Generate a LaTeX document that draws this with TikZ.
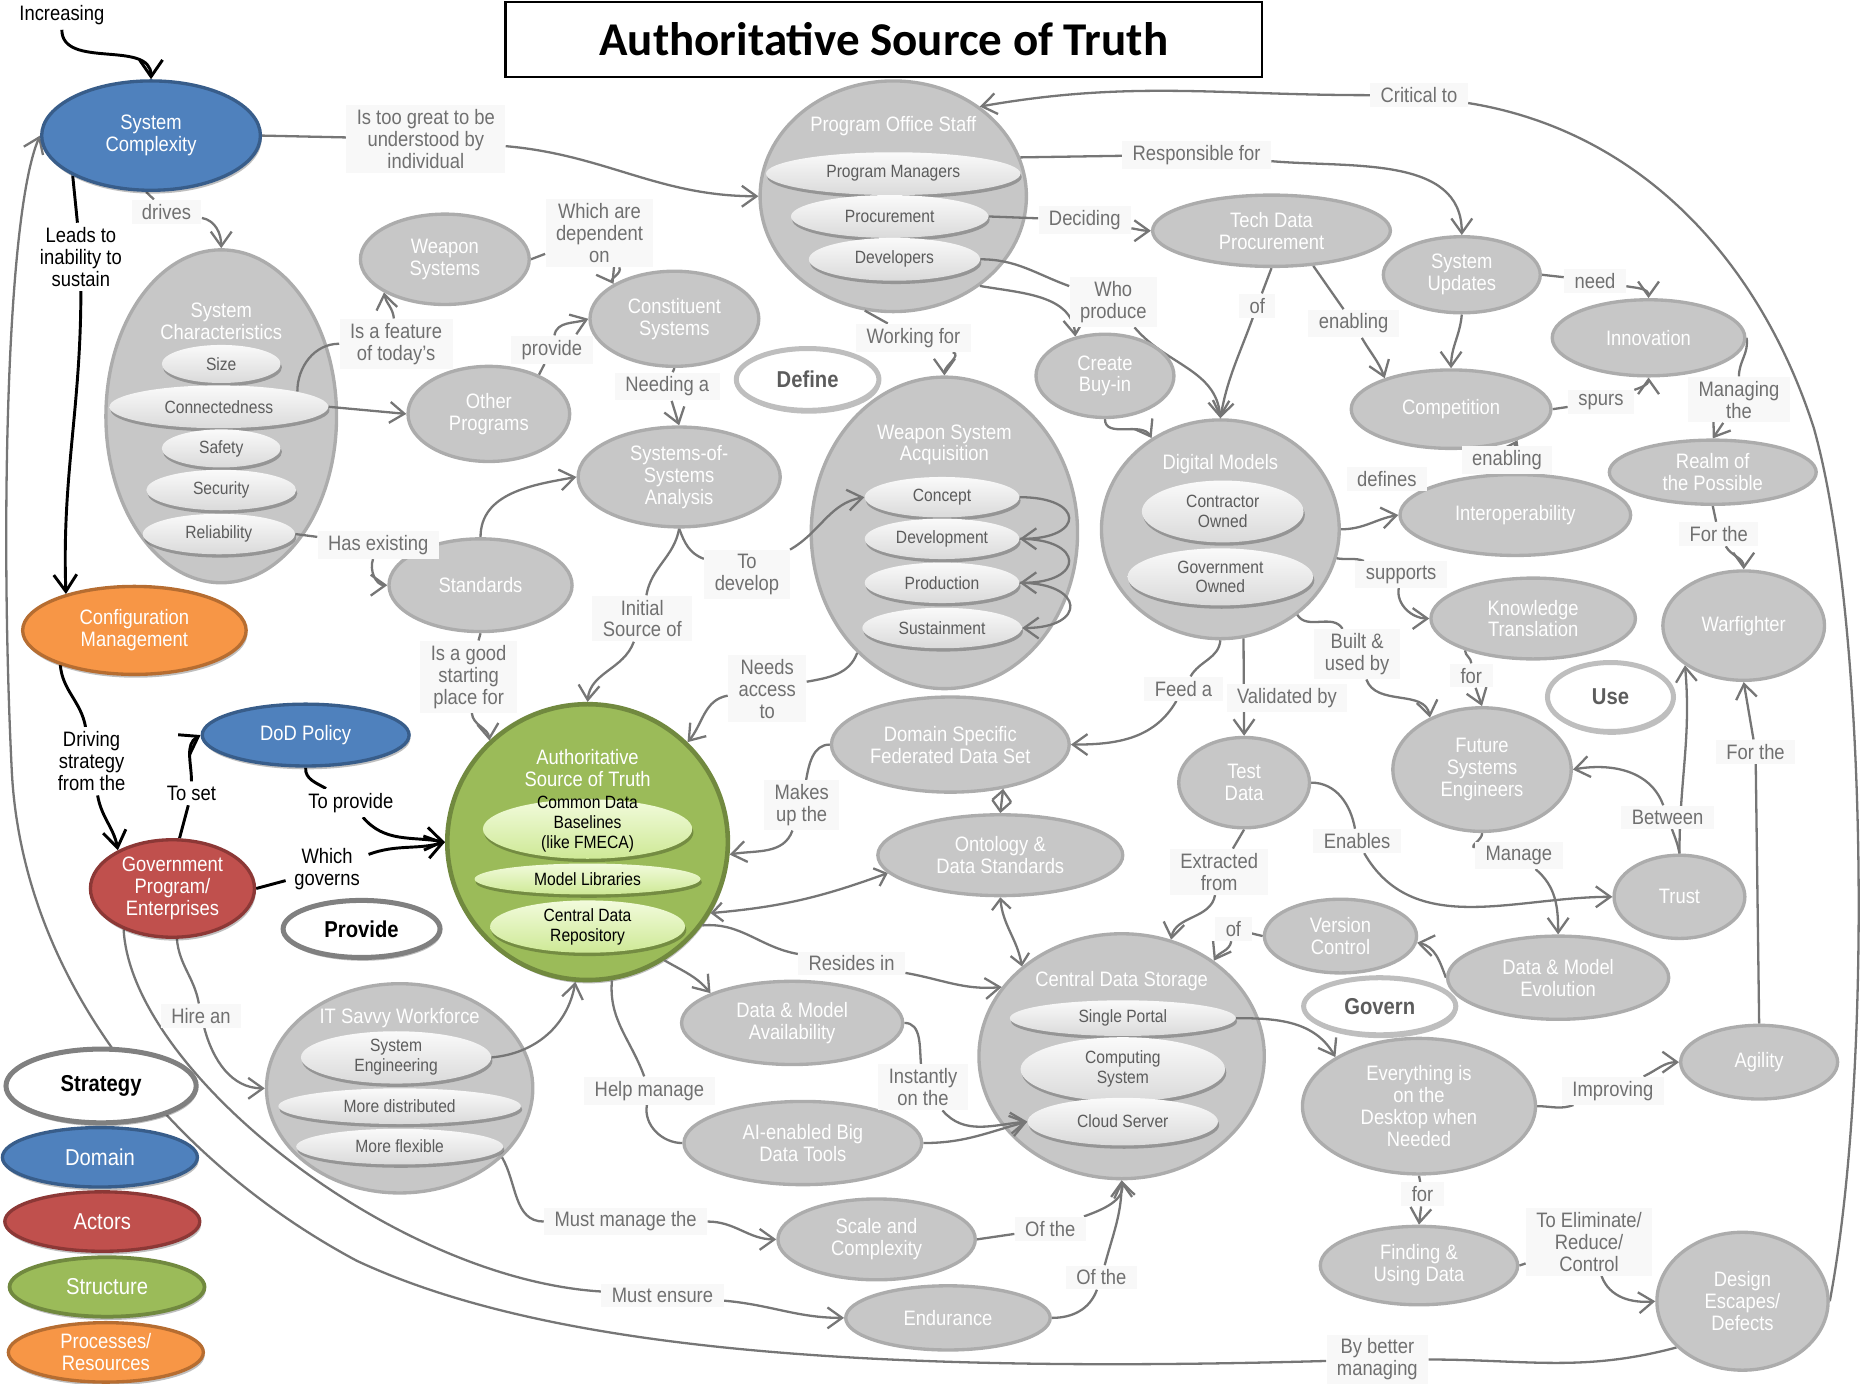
\documentclass[tikz,border=0pt]{standalone}
\usepackage{fontspec}
\setmainfont{Liberation Sans}[FakeStretch=0.88]
\newfontfamily\titlefont{Carlito}
\usetikzlibrary{arrows.meta, positioning, shapes.geometric, shadows}

\pgfdeclarelayer{bigs}
\pgfdeclarelayer{links}
\pgfsetlayers{bigs,links,main}

\definecolor{domainblue}{RGB}{79,129,189}
\definecolor{domainedge}{RGB}{56,93,138}
\definecolor{actorred}{RGB}{192,80,77}
\definecolor{actoredge}{RGB}{140,56,54}
\definecolor{structgreen}{RGB}{155,187,89}
\definecolor{structedge}{RGB}{113,137,63}
\definecolor{procorange}{RGB}{247,150,70}
\definecolor{procedge}{RGB}{182,109,49}
\definecolor{fadefill}{RGB}{199,199,199}
\definecolor{fadeedge}{RGB}{172,172,172}
\definecolor{keyedge}{RGB}{190,190,190}
\definecolor{keydark}{RGB}{128,128,128}
\definecolor{linkgray}{RGB}{118,118,118}
\definecolor{labelgray}{RGB}{112,112,112}
\definecolor{labelbg}{RGB}{248,248,248}
\definecolor{subtext}{RGB}{92,92,92}
\definecolor{partlight}{RGB}{250,250,250}
\definecolor{partdark}{RGB}{218,218,218}
\definecolor{greenlight}{RGB}{242,251,220}
\definecolor{greendark}{RGB}{206,233,150}

\begin{document}
\begin{tikzpicture}[x=0.02cm, y=-0.02cm,
    every node/.style={font=\fontsize{10}{10.5}\selectfont, align=center},
    sz/.style 2 args={minimum width=#1*0.04cm, minimum height=#2*0.04cm},
    softshadow/.style={drop shadow={shadow xshift=0.6pt, shadow yshift=-1.6pt, opacity=0.25, fill=black}},
    oval/.style={ellipse, inner sep=0pt, line width=1.6pt},
    domainnode/.style={oval, draw=domainedge, fill=domainblue, text=white, softshadow},
    actornode/.style={oval, draw=actoredge, fill=actorred, text=white, softshadow},
    structnode/.style={oval, draw=structedge, fill=structgreen, text=white, line width=2.2pt, softshadow},
    procnode/.style={oval, draw=procedge, fill=procorange, text=white, softshadow},
    fadenode/.style={oval, draw=fadeedge, fill=fadefill, text=white},
    keynode/.style={oval, fill=white, draw=keyedge, line width=2.4pt, font=\bfseries\fontsize{11}{12}\selectfont, text=subtext, softshadow},
    part/.style={ellipse, inner sep=0pt, top color=partlight, bottom color=partdark, text=subtext, font=\fontsize{8.5}{9.5}\selectfont, softshadow},
    greenpart/.style={part, top color=greenlight, bottom color=greendark, text=black},
    parttext/.style={font=\fontsize{8.5}{9.5}\selectfont, text=black},
    tag/.style={fill=labelbg, text=labelgray, inner xsep=5pt, inner ysep=2pt},
    darktag/.style={fill=white, text=black, inner xsep=4pt, inner ysep=2pt},
    bare/.style={draw=linkgray, line width=1.1pt},
    link/.style={bare, -{Straight Barb[length=7pt, width=10pt]}},
    twoway/.style={bare, {Straight Barb[length=5pt, width=9pt]}-{Straight Barb[length=5pt, width=9pt]}},
    blackbare/.style={draw=black, line width=1.4pt},
    blacklink/.style={blackbare, -{Straight Barb[length=8pt, width=11pt]}}]
\useasboundingbox (0,0) rectangle (1568,1163);

% title
\node[draw, line width=1pt, inner sep=0pt, minimum width=636*0.02cm, minimum height=63*0.02cm,
  font=\titlefont\bfseries\fontsize{22.5}{24}\selectfont] (title) at (743,33) {Authoritative Source of Truth};

% containers (drawn below the links)
\begin{pgfonlayer}{bigs}
\node[structnode, sz={118}{116}] (ast) at (494,708) {};
\node[fadenode, sz={97}{140}] (syschar) at (186,350) {};
\node[fadenode, sz={112}{97}] (pos) at (751,165) {};
\node[fadenode, sz={112}{131}] (wsa) at (794,448) {};
\node[fadenode, sz={100}{92}] (dm) at (1026,445) {};
\node[fadenode, sz={120}{103}] (cds) at (943,888) {};
\node[fadenode, sz={112}{88}] (it) at (336,915) {};
\end{pgfonlayer}

% strategy side
\node[darktag] (incr) at (52,13) {Increasing};
\node[domainnode, sz={92}{46}] (cplx) at (127,114) {System\\Complexity};
\node[procnode, sz={94}{37}] (config) at (113,530) {Configuration\\Management};
\node[domainnode, sz={87}{26}] (dod) at (257,618) {DoD Policy};
\node[actornode, sz={69}{41}] (gov) at (145,747) {Government\\Program/\\Enterprises};

% authoritative source
\node[text=white] (ast-t) at (494,646) {Authoritative\\Source of Truth};
\node[greenpart, sz={88}{25}] (baseline) at (494,697) {};
\node[parttext] (baseline-t) at (494,693) {Common Data\\Baselines\\(like FMECA)};
\node[greenpart, sz={95}{13}] (modlib) at (494,739) {Model Libraries};
\node[greenpart, sz={82}{22}] (repo) at (494,779) {Central Data\\Repository};

% key
\node[keynode, sz={80}{31}, draw=keydark, text=black] (keystrat) at (85,913) {Strategy};
\node[domainnode, sz={82}{25}, font=\fontsize{11}{12}\selectfont] (keydomain) at (84,973) {Domain};
\node[actornode, sz={82}{25}, font=\fontsize{11}{12}\selectfont] (keyactor) at (86,1027) {Actors};
\node[structnode, sz={82}{25}, line width=1.8pt, font=\fontsize{11}{12}\selectfont] (keystruct) at (90,1082) {Structure};
\node[procnode, sz={82}{25}] (keyproc) at (89,1137) {Processes/\\Resources};
\node[keynode, sz={60}{26}] (keydefine) at (679,319) {Define};
\node[keynode, sz={66}{24}, draw=keydark, text=black] (keyprovide) at (304,781) {Provide};
\node[keynode, sz={53}{29}] (keyuse) at (1354,586) {Use};
\node[keynode, sz={64}{24}] (keygovern) at (1160,846) {Govern};

% gray concept nodes
\node[fadenode, sz={71}{38}] (weapsys) at (374,218) {Weapon\\Systems};
\node[fadenode, sz={71}{40}] (constit) at (567,268) {Constituent\\Systems};
\node[fadenode, sz={68}{40}] (otherp) at (411,348) {Other\\Programs};
\node[text=white] (syschar-t) at (186,270) {System\\Characteristics};
\node[part, sz={50}{16}] (size) at (186,306) {Size};
\node[part, sz={92}{18}] (connect) at (184,342) {Connectedness};
\node[part, sz={50}{16}] (safety) at (186,377) {Safety};
\node[part, sz={63}{17}] (security) at (186,412) {Security};
\node[part, sz={64}{17}] (reliab) at (184,449) {Reliability};
\node[fadenode, sz={85}{42}] (sosa) at (571,401) {Systems-of-\\Systems\\Analysis};
\node[fadenode, sz={77}{39}] (stand) at (404,492) {Standards};
\node[text=white] (pos-t) at (751,106) {Program Office Staff};
\node[part, sz={107}{18}] (pmgr) at (751,146) {Program Managers};
\node[part, sz={83}{18}] (procure) at (748,182) {Procurement};
\node[part, sz={72}{18}] (devs) at (752,218) {Developers};
\node[fadenode, sz={100}{30}] (tdp) at (1069,194) {Tech Data\\Procurement};
\node[fadenode, sz={66}{32}] (sysupd) at (1229,231) {System\\Updates};
\node[fadenode, sz={81}{32}] (innov) at (1386,284) {Innovation};
\node[fadenode, sz={84}{33}] (compet) at (1220,344) {Competition};
\node[fadenode, sz={87}{27}] (realm) at (1440,397) {Realm of\\the Possible};
\node[fadenode, sz={58}{35}] (buyin) at (929,316) {Create\\Buy-in};
\node[text=white] (wsa-t) at (794,374) {Weapon System\\Acquisition};
\node[part, sz={65}{17}] (concept) at (792,418) {Concept};
\node[part, sz={65}{17}] (devel) at (792,453) {Development};
\node[part, sz={65}{17}] (prod) at (792,490) {Production};
\node[part, sz={67}{17}] (sustain) at (792,528) {Sustainment};
\node[text=white] (dm-t) at (1026,390) {Digital Models};
\node[part, sz={68}{26}] (contr) at (1028,430) {Contractor\\Owned};
\node[part, sz={78}{24}] (govown) at (1026,485) {Government\\Owned};
\node[fadenode, sz={97}{34}] (interop) at (1274,433) {Interoperability};
\node[fadenode, sz={86}{34}] (kt) at (1289,520) {Knowledge\\Translation};
\node[fadenode, sz={68}{46}] (warf) at (1466,526) {Warfighter};
\node[fadenode, sz={75}{52}] (fse) at (1246,647) {Future\\Systems\\Engineers};
\node[fadenode, sz={55}{38}] (testd) at (1046,658) {Test\\Data};
\node[fadenode, sz={100}{40}] (dsfds) at (799,626) {Domain Specific\\Federated Data Set};
\node[fadenode, sz={103}{34}] (onto) at (841,719) {Ontology \&\\Data Standards};
\node[fadenode, sz={55}{35}] (trust) at (1412,754) {Trust};
\node[fadenode, sz={64}{31}] (vc) at (1127,787) {Version\\Control};
\node[fadenode, sz={93}{35}] (dme) at (1310,822) {Data \& Model\\Evolution};
\node[text=white] (cds-t) at (943,825) {Central Data Storage};
\node[part, sz={95}{15}] (portal) at (944,856) {Single Portal};
\node[part, sz={86}{27}] (compsys) at (944,899) {Computing\\System};
\node[part, sz={80}{20}] (cloud) at (944,943) {Cloud Server};
\node[fadenode, sz={93}{35}] (dma) at (666,860) {Data \& Model\\Availability};
\node[text=white] (it-t) at (336,856) {IT Savvy Workforce};
\node[part, sz={80}{22}] (syseng) at (333,889) {System\\Engineering};
\node[part, sz={102}{15}] (distrib) at (336,930) {More distributed};
\node[part, sz={87}{15}] (flex) at (336,964) {More flexible};
\node[fadenode, sz={100}{35}] (aibig) at (675,961) {AI-enabled Big\\Data Tools};
\node[fadenode, sz={83}{34}] (scale) at (737,1042) {Scale and\\Complexity};
\node[fadenode, sz={86}{27}] (endur) at (797,1108) {Endurance};
\node[fadenode, sz={98}{57}] (eod) at (1193,930) {Everything is\\on the\\Desktop when\\Needed};
\node[fadenode, sz={66}{31}] (agility) at (1479,893) {Agility};
\node[fadenode, sz={83}{33}] (fud) at (1193,1064) {Finding \&\\Using Data};
\node[fadenode, sz={72}{58}] (design) at (1465,1094) {Design\\Escapes/\\Defects};

% link labels
\node[tag] (greatlbl) at (358,117) {Is too great to be\\understood by\\individual};
\node[tag] (driveslbl) at (140,178) {drives};
\node[darktag] (leadslbl) at (68,216) {Leads to\\inability to\\sustain};
\node[tag] (dependlbl) at (504,196) {Which are\\dependent\\on};
\node[tag] (featurelbl) at (333,289) {Is a feature\\of today's};
\node[tag] (provide2lbl) at (464,294) {provide};
\node[tag] (needinglbl) at (561,325) {Needing a};
\node[tag] (worklbl) at (768,284) {Working for};
\node[tag] (wholbl) at (936,254) {Who\\produce};
\node[tag] (decidelbl) at (912,185) {Deciding};
\node[tag] (resplbl) at (1006,130) {Responsible for};
\node[tag] (criticallbl) at (1193,80) {Critical to};
\node[tag] (of1lbl) at (1057,257) {of};
\node[tag] (enable1lbl) at (1138,272) {enabling};
\node[tag] (needlbl) at (1341,236) {need};
\node[tag] (spurslbl) at (1346,338) {spurs};
\node[tag] (mgtlbl) at (1462,336) {Managing\\the};
\node[tag] (enable2lbl) at (1267,387) {enabling};
\node[tag] (defineslbl) at (1166,403) {defines};
\node[tag] (forthe1lbl) at (1445,449) {For the};
\node[tag] (supportlbl) at (1178,483) {supports};
\node[tag] (haslbl) at (318,458) {Has existing};
\node[tag] (developlbl) at (628,483) {To\\develop};
\node[tag] (initlbl) at (540,520) {Initial\\Source of};
\node[tag] (goodlbl) at (394,569) {Is a good\\starting\\place for};
\node[tag] (needslbl) at (645,579) {Needs\\access\\to};
\node[tag] (feedlbl) at (995,579) {Feed a};
\node[tag] (validlbl) at (1082,587) {Validated by};
\node[tag] (builtlbl) at (1141,550) {Built \&\\used by};
\node[tag] (for1lbl) at (1237,568) {for};
\node[tag] (forthe2lbl) at (1476,632) {For the};
\node[tag] (betweenlbl) at (1402,687) {Between};
\node[tag] (makeslbl) at (674,677) {Makes\\up the};
\node[tag] (enablelbl) at (1141,707) {Enables};
\node[tag] (manage2lbl) at (1277,719) {Manage};
\node[tag] (extractlbl) at (1025,733) {Extracted\\from};
\node[tag] (of2lbl) at (1037,781) {of};
\node[tag] (resideslbl) at (716,810) {Resides in};
\node[tag] (hirelbl) at (169,854) {Hire an};
\node[tag] (helplbl) at (546,917) {Help manage};
\node[tag] (instantlbl) at (776,914) {Instantly\\on the};
\node[tag] (improvlbl) at (1356,917) {Improving};
\node[tag] (for2lbl) at (1196,1004) {for};
\node[tag] (managelbl) at (526,1027) {Must manage the};
\node[tag] (ofthe1lbl) at (883,1033) {Of the};
\node[tag] (elimlbl) at (1336,1044) {To Eliminate/\\Reduce/\\Control};
\node[tag] (ofthe2lbl) at (926,1074) {Of the};
\node[tag] (ensurelbl) at (557,1089) {Must ensure};
\node[tag] (betterlbl) at (1158,1143) {By better\\managing};
\node[darktag] (drivinglbl) at (77,640) {Driving\\strategy\\from the};
\node[darktag] (setlbl) at (161,667) {To set};
\node[darktag] (provide1lbl) at (295,675) {To provide};
\node[darktag] (governlbl) at (275,731) {Which\\governs};

\begin{pgfonlayer}{links}
% strategy chain
\draw[blacklink] (incr) to[out=-90, in=90] (cplx.north);
\draw[blackbare] (cplx.207) -- (leadslbl);
\draw[blacklink] (leadslbl) to[out=-90, in=92] (config.152);
\draw[blackbare] (config.205) to[out=-85, in=100] (drivinglbl);
\draw[blacklink] (drivinglbl) to[out=-80, in=100] (gov.145);
\draw[blackbare] (gov.82) -- (setlbl);
\draw[blacklink] (setlbl) to[out=90, in=210] (dod.west);
\draw[blackbare] (dod.south) to[out=-95, in=150] (provide1lbl);
\draw[blacklink] (provide1lbl) to[out=-50, in=170] (ast.180);
\draw[blackbare] (gov.east) -- (governlbl);
\draw[blacklink] (governlbl) to[out=20, in=195] (ast.180);

% upper left
\draw[bare] (cplx.east) -- (greatlbl);
\draw[link] (greatlbl) to[out=-5, in=180] (pos.west);
\draw[bare] (cplx.-95) -- (driveslbl);
\draw[link] (driveslbl) to[out=-10, in=90] (syschar.north);
\draw[bare] (connect.11) to[out=90, in=180] (featurelbl);
\draw[link] (featurelbl) to[out=95, in=-80] (weapsys.south west);
\draw[link] (connect.east) -- (otherp.west);
\draw[bare] (otherp.38) -- (provide2lbl);
\draw[link] (provide2lbl) to[out=80, in=200] (constit.west);
\draw[bare] (weapsys.east) -- (dependlbl);
\draw[link] (dependlbl) to[out=-60, in=120] (constit.north west);
\draw[bare] (constit.south) -- (needinglbl);
\draw[link] (needinglbl) -- (sosa.north);
\draw[bare] (reliab.east) -- (haslbl);
\draw[link] (haslbl) to[out=-110, in=180] (stand.west);
\draw[link] (stand.north) to[out=90, in=190] (sosa.west);
\draw[bare] (stand.south) -- (goodlbl);
\draw[link] (goodlbl) to[out=-85, in=95] (ast.134);
\draw[bare] (sosa.south) to[out=-100, in=80] (initlbl);
\draw[link] (initlbl) to[out=-110, in=85] (ast.north);
\draw[bare] (sosa.south) to[out=-70, in=160] (developlbl);
\draw[link] (developlbl) to[out=30, in=190] (concept.west);
\draw[link] (concept.east) .. controls +(55,0) and +(55,0) .. (devel.east);
\draw[link] (devel.east) .. controls +(55,0) and +(55,0) .. (prod.east);
\draw[link] (prod.east) .. controls +(55,0) and +(55,0) .. (sustain.east);
\draw[bare] (wsa.234) to[out=-110, in=10] (needslbl);
\draw[link] (needslbl) to[out=-170, in=50] (ast.45);

% program office
\draw[bare] (pos.256) -- (worklbl);
\draw[link] (worklbl) to[out=-20, in=90] (wsa.north);
\draw[link] (pos.-46) to[out=-10, in=95] (buyin.127);
\draw[link] (buyin.south) to[out=-90, in=120] (dm.127);
\draw[bare] (pos.17) -- (resplbl);
\draw[link] (resplbl) to[out=-5, in=90] (sysupd.north);
\draw[bare] (procure.east) -- (decidelbl);
\draw[link] (decidelbl) to[out=-10, in=180] (tdp.west);
\draw[bare] (devs.east) to[out=0, in=160] (wholbl);
\draw[link] (wholbl) to[out=-50, in=95] (dm.north);
\draw[bare] (tdp.south) -- (of1lbl);
\draw[link] (of1lbl) to[out=-110, in=80] (dm.north);
\draw[bare] (tdp.-40) -- (enable1lbl);
\draw[link] (enable1lbl) to[out=-60, in=110] (compet.155);
\draw[link] (sysupd.south) to[out=-95, in=90] (compet.north);
\draw[bare] (sysupd.east) -- (needlbl);
\draw[link] (needlbl) to[out=-10, in=90] (innov.north);
\draw[bare] (compet.east) -- (spurslbl);
\draw[link] (spurslbl) to[out=20, in=-90] (innov.south);
\draw[bare] (innov.east) to[out=-80, in=90] (mgtlbl);
\draw[link] (mgtlbl) -- (realm.north);
\draw[bare] (interop.north) -- (enable2lbl);
\draw[link] (enable2lbl) -- (compet.-25);
\draw[bare] (realm.south) -- (forthe1lbl);
\draw[link] (forthe1lbl) to[out=-60, in=90] (warf.north);

% digital models
\draw[link] (dm.east) to[out=0, in=190] (interop.west);
\draw[bare] (dm.-14) to[out=-10, in=160] (supportlbl);
\draw[link] (supportlbl) to[out=-100, in=180] (kt.west);
\draw[bare] (dm.-48) to[out=-60, in=120] (builtlbl);
\draw[link] (builtlbl) to[out=-70, in=100] (fse.135);
\draw[bare] (dm.south) to[out=-95, in=60] (feedlbl);
\draw[link] (feedlbl) to[out=-120, in=0] (dsfds.east);
\draw[link] (dm.-78) -- (testd.north);
\draw[bare] (kt.205) to[out=-90, in=90] (for1lbl);
\draw[link] (for1lbl) -- (fse.north);
\draw[bare] (testd.east) to[out=0, in=100] (enablelbl);
\draw[link] (enablelbl) to[out=-60, in=180] (trust.west);
\draw[bare] (testd.south) -- (extractlbl);
\draw[link] (extractlbl) to[out=-100, in=80] (cds.67);
\draw[bare] (fse.south) to[out=-80, in=170] (manage2lbl);
\draw[link] (manage2lbl) to[out=-40, in=90] (dme.north);
\draw[bare] (trust.north) to[out=100, in=-70] (betweenlbl);
\draw[link] (betweenlbl) to[out=110, in=10] (fse.east);
\draw[link] (trust.north) to[out=90, in=-85] (warf.214);
\draw[bare] (agility.north) -- (forthe2lbl);
\draw[link] (forthe2lbl) -- (warf.south);
\draw[link] (dme.west) to[out=110, in=-10] (vc.-5);
\draw[bare] (vc.west) -- (of2lbl);
\draw[link] (of2lbl) to[out=-100, in=60] (cds.46);

% data set and storage
\draw[twoway] (dsfds.-40) -- (onto.north);
\draw[twoway] (ast.-30) to[out=5, in=200] (onto.189);
\draw[twoway] (onto.south) to[out=-85, in=100] (cds.138);
\draw[bare] (dsfds.west) to[out=180, in=80] (makeslbl);
\draw[link] (makeslbl) to[out=-110, in=10] (ast.-5);
\draw[bare] (ast.-36) to[out=5, in=170] (resideslbl);
\draw[link] (resideslbl) to[out=-10, in=185] (cds.150);
\draw[link] (ast.-57) to[out=-30, in=130] (dma.160);
\draw[bare] (ast.-80) to[out=-95, in=110] (helplbl);
\draw[bare] (helplbl) to[out=-100, in=180] (aibig.west);
\draw[bare] (dma.east) to[out=0, in=95] (instantlbl);
\draw[link] (instantlbl) to[out=-50, in=185] (cloud.west);
\draw[link] (aibig.east) to[out=0, in=195] (cloud.west);
\draw[bare] (scale.east) -- (ofthe1lbl);
\draw[link] (ofthe1lbl) to[out=20, in=-80] (cds.south);
\draw[bare] (endur.east) to[out=0, in=-110] (ofthe2lbl);
\draw[link] (ofthe2lbl) to[out=75, in=-90] (cds.south);
\draw[link] (portal.east) to[out=0, in=120] (eod.north west);
\draw[bare] (eod.east) to[out=0, in=200] (improvlbl);
\draw[link] (improvlbl) to[out=25, in=180] (agility.west);
\draw[bare] (eod.south) -- (for2lbl);
\draw[link] (for2lbl) -- (fud.north);
\draw[bare] (fud.east) -- (elimlbl);
\draw[link] (elimlbl) to[out=-70, in=185] (design.west);

% workforce and lower loops
\draw[link] (syseng.east) to[out=5, in=-100] (ast.265);
\draw[bare] (gov.-85) to[out=-85, in=100] (hirelbl);
\draw[link] (hirelbl) to[out=-75, in=180] (it.west);
\draw[bare] (gov.220) .. controls (110,900) and (330,1075) .. (ensurelbl);
\draw[link] (ensurelbl) to[out=-5, in=180] (endur.west);
\draw[bare] (it.-34) to[out=-60, in=180] (managelbl);
\draw[link] (managelbl) to[out=0, in=180] (scale.west);
\draw[bare] (design.east) .. controls (1575,900) and (1570,520) .. (1525,360)
  .. controls (1480,220) and (1380,110) .. (criticallbl);
\draw[link] (criticallbl) to[out=180, in=10] (pos.46);
\draw[bare] (design.215) to[out=195, in=0] (betterlbl);
\draw[link] (betterlbl) .. controls (700,1156) and (450,1130) .. (300,1060)
  .. controls (150,980) and (20,830) .. (10,650)
  .. controls (0,450) and (5,180) .. (cplx.west);
\end{pgfonlayer}
\end{tikzpicture}
\end{document}
